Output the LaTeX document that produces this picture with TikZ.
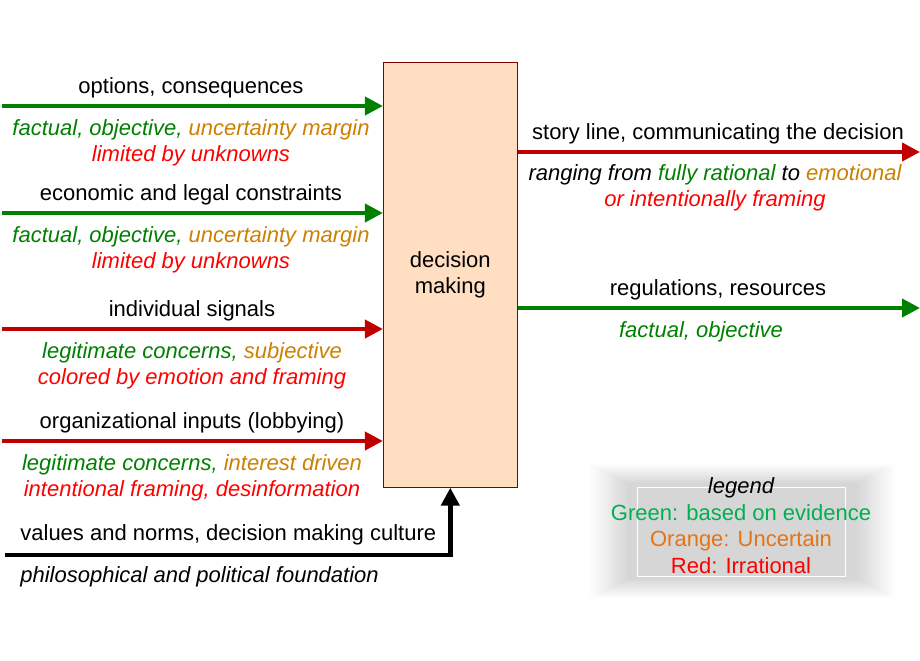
\documentclass[tikz,border=0pt]{standalone}
\usepackage{fontspec}
\setmainfont{Liberation Sans}
\usepackage{tikz}
\usetikzlibrary{arrows.meta}
\definecolor{arrowgreen}{RGB}{0,128,0}
\definecolor{arrowred}{RGB}{192,0,0}
\definecolor{txtgreen}{RGB}{0,128,0}
\definecolor{txtorange}{RGB}{204,128,0}
\definecolor{txtred}{RGB}{255,0,0}
\definecolor{boxfill}{RGB}{255,222,194}
\definecolor{boxred}{RGB}{128,0,0}
\definecolor{leggreen}{RGB}{0,176,80}
\definecolor{legorange}{RGB}{230,115,20}
\newcommand{\gtxt}[1]{{\color{txtgreen}#1}}
\newcommand{\otxt}[1]{{\color{txtorange}#1}}
\newcommand{\rtxt}[1]{{\color{txtred}#1}}

\begin{document}
\begin{tikzpicture}[x=0.5pt,y=-0.5pt,font=\fontsize{11}{13}\selectfont,
                    flow/.style={line width=2pt,-{Triangle[length=9pt,width=9pt]}},
                    gflow/.style={flow,draw=arrowgreen},
                    rflow/.style={flow,draw=arrowred},
                    kflow/.style={flow,line width=2.3pt,draw=black},
                    lbl/.style={inner sep=0pt,anchor=base},
                    note/.style={lbl,font=\fontsize{11}{13}\selectfont\itshape}]
                \useasboundingbox (0,0) rectangle (920,660);
                \node [draw=boxred,fill=boxfill,minimum width=67pt,minimum height=212.5pt,
                       inner sep=0pt,align=center] (dm) at (450.3,274.8) {decision\\making};
                % inputs on the left
                \coordinate (in1) at (2,106);
                \coordinate (in2) at (2,213);
                \coordinate (in3) at (2,329);
                \coordinate (in4) at (2,441);
                \draw [gflow] (in1) -- (in1 -| dm.west);
                \draw [gflow] (in2) -- (in2 -| dm.west);
                \draw [rflow] (in3) -- (in3 -| dm.west);
                \draw [rflow] (in4) -- (in4 -| dm.west);
                \node [lbl]  (in1top) at (191,93)  {options, consequences};
                \node [note] (in1a)   at (191,135) {\gtxt{factual, objective,} \otxt{uncertainty margin}};
                \node [note] (in1b)   at (191,161) {\rtxt{limited by unknowns}};
                \node [lbl]  (in2top) at (191,200) {economic and legal constraints};
                \node [note] (in2a)   at (191,242) {\gtxt{factual, objective,} \otxt{uncertainty margin}};
                \node [note] (in2b)   at (191,268) {\rtxt{limited by unknowns}};
                \node [lbl]  (in3top) at (192,316) {individual signals};
                \node [note] (in3a)   at (192,358) {\gtxt{legitimate concerns,} \otxt{subjective}};
                \node [note] (in3b)   at (192,384) {\rtxt{colored by emotion and framing}};
                \node [lbl]  (in4top) at (192,428) {organizational inputs (lobbying)};
                \node [note] (in4a)   at (192,470) {\gtxt{legitimate concerns,} \otxt{interest driven}};
                \node [note] (in4b)   at (192,496) {\rtxt{intentional framing, desinformation}};
                % culture from below
                \coordinate (base) at (5,555);
                \draw [kflow] (base) -- (base -| dm.south) -- (dm.south);
                \node [lbl,anchor=base west]  (basetop) at (20,540) {values and norms, decision making culture};
                \node [note,anchor=base west] (basea)   at (20,582) {philosophical and political foundation};
                % outputs on the right
                \coordinate (out1) at (920,152);
                \coordinate (out2) at (920,308);
                \draw [rflow] (out1 -| dm.east) -- (out1);
                \draw [gflow] (out2 -| dm.east) -- (out2);
                \node [lbl]  (out1top) at (718,139) {story line, communicating the decision};
                \node [note] (out1a)   at (715,180) {ranging from \gtxt{fully rational} to \otxt{emotional}};
                \node [note] (out1b)   at (715,206) {\rtxt{or intentionally framing}};
                \node [lbl]  (out2top) at (718,295) {regulations, resources};
                \node [note] (out2a)   at (701,337) {\gtxt{factual, objective}};
                % legend
                \foreach \i [evaluate=\i as \s using 0.8*\i] in {1,...,20}
                    \fill [black!\s] ({588+2*\i},{463+1*\i}) rectangle ({897-2*\i},{599-1*\i});
                \draw [white,line width=0.4pt] (637,487) rectangle (845,576);
                \node [note] (leg)  at (741,493) {legend};
                \node [lbl,text=leggreen]  (leg1) at (741,520) {Green: based on evidence};
                \node [lbl,text=legorange] (leg2) at (741,546.5) {Orange: Uncertain};
                \node [lbl,text=txtred]    (leg3) at (741,573) {Red: Irrational};
            \end{tikzpicture}
\end{document}
